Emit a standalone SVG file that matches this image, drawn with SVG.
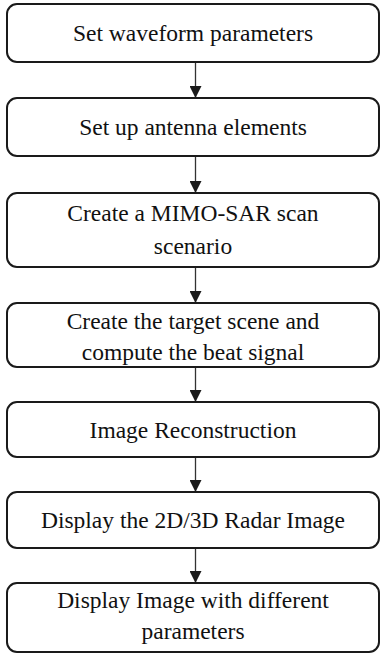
<svg xmlns="http://www.w3.org/2000/svg" width="380" height="657" viewBox="0 0 380 657">
<defs>
<style>
.box{fill:#fff;stroke:#1a1a1a;stroke-width:2}
.t{font-family:'Liberation Serif','Times New Roman',Times,serif;font-size:23.5px;fill:#111;text-anchor:middle}
.c{stroke:#333;stroke-width:1.3;fill:none}
</style>
<marker id="ah" markerWidth="12" markerHeight="12" viewBox="0 0 12 12" refX="12" refY="6" orient="auto" markerUnits="userSpaceOnUse">
<path d="M0,0 L12,6 L0,12 Z" fill="#1a1a1a"/>
</marker>
</defs>
<rect width="380" height="657" fill="#fff"/>
<g id="connectors">
<line class="c" x1="195.5" y1="62" x2="195.5" y2="98" marker-end="url(#ah)"/>
<line class="c" x1="195.5" y1="156" x2="195.5" y2="193" marker-end="url(#ah)"/>
<line class="c" x1="195.5" y1="267" x2="195.5" y2="303" marker-end="url(#ah)"/>
<line class="c" x1="195.5" y1="367" x2="195.5" y2="402" marker-end="url(#ah)"/>
<line class="c" x1="195.5" y1="457" x2="195.5" y2="492" marker-end="url(#ah)"/>
<line class="c" x1="195.5" y1="548" x2="195.5" y2="583" marker-end="url(#ah)"/>
</g>
<g id="n1"><rect class="box" x="7" y="4" width="372" height="58" rx="10"/><text class="t" x="193" y="41">Set waveform parameters</text></g>
<g id="n2"><rect class="box" x="7" y="98" width="372" height="58" rx="10"/><text class="t" x="193" y="135">Set up antenna elements</text></g>
<g id="n3"><rect class="box" x="7" y="193" width="372" height="74" rx="10"/><text class="t" x="193" y="221">Create a MIMO-SAR scan</text><text class="t" x="193" y="254">scenario</text></g>
<g id="n4"><rect class="box" x="7" y="303" width="372" height="64" rx="10"/><text class="t" x="193" y="329">Create the target scene and</text><text class="t" x="193" y="360">compute the beat signal</text></g>
<g id="n5"><rect class="box" x="7" y="402" width="372" height="55" rx="10"/><text class="t" x="193" y="438">Image Reconstruction</text></g>
<g id="n6"><rect class="box" x="7" y="492" width="372" height="56" rx="10"/><text class="t" x="193" y="528">Display the 2D/3D Radar Image</text></g>
<g id="n7"><rect class="box" x="7" y="583" width="372" height="69" rx="10"/><text class="t" x="193" y="608">Display Image with different</text><text class="t" x="193" y="639">parameters</text></g>
</svg>
